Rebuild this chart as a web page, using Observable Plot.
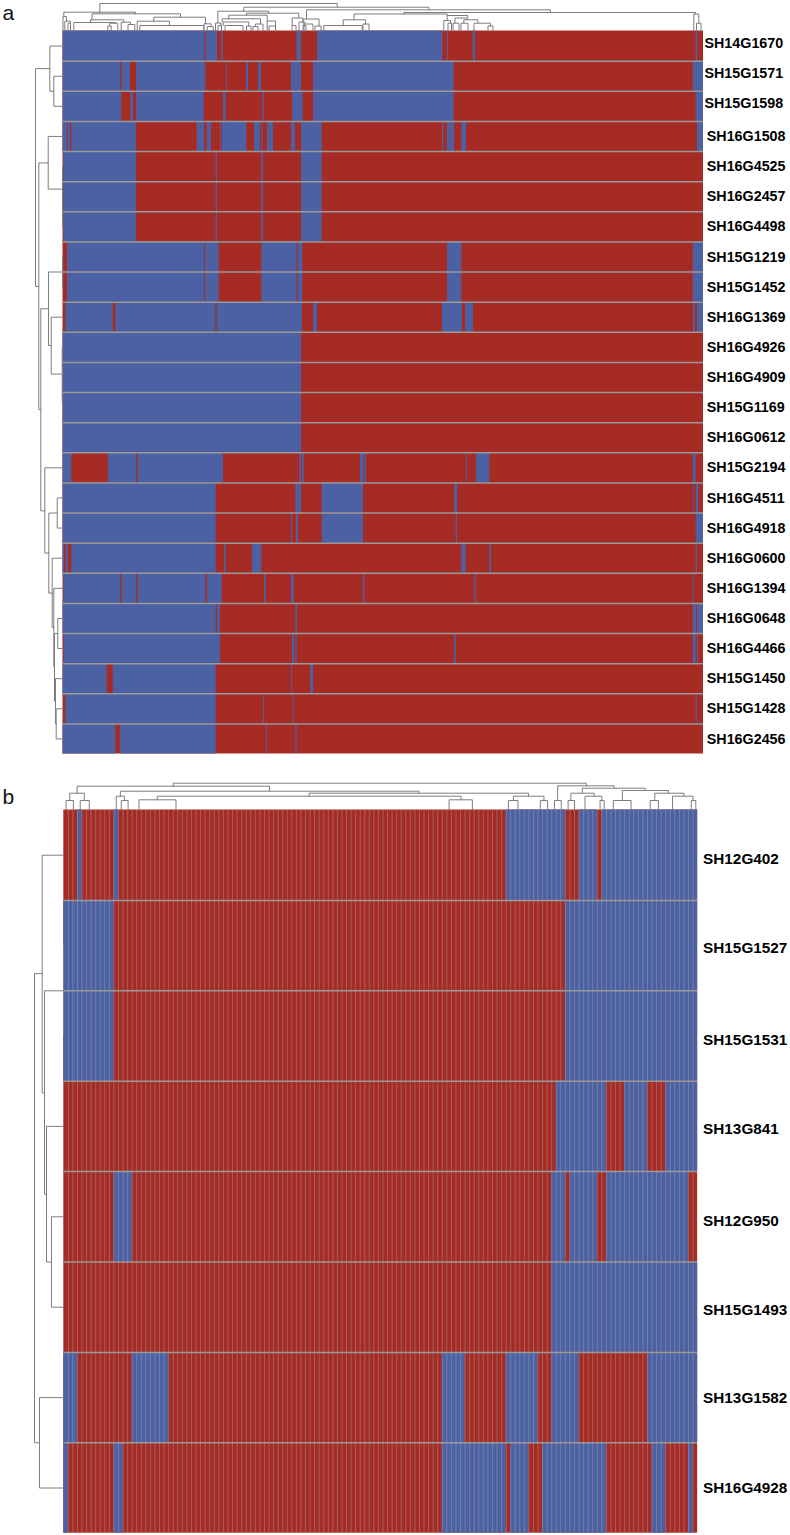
<!DOCTYPE html>
<html>
<head>
<meta charset="utf-8">
<script src="https://cdn.jsdelivr.net/npm/d3@7"></script>
<script src="https://cdn.jsdelivr.net/npm/@observablehq/plot@0.6"></script>
<style>
html,body{margin:0;padding:0;background:#fff}
svg{display:block}
</style>
</head>
<body>
<div id="chart"></div>
<script>
// Panel a: isolates along the axis (0 to 640.5), rows top to bottom
const aLabels = ["SH14G1670","SH15G1571","SH15G1598","SH16G1508","SH16G4525","SH16G2457","SH16G4498","SH15G1219","SH15G1452","SH16G1369","SH16G4926","SH16G4909","SH15G1169","SH16G0612","SH15G2194","SH16G4511","SH16G4918","SH16G0600","SH16G1394","SH16G0648","SH16G4466","SH15G1450","SH15G1428","SH16G2456"];
const aSpan = 640.5;
// Blue stretches [start, end, start, end, ...]; everything else in a row is red
const aBlue = [
 [0,141.5,142.8,154.5,158.5,160.2,234,238.5,254.5,379.8,384.5,385.5,410.2,412.5,633.2,634.8],
 [0,57.5,58.8,67.5,73.5,142.8,163.5,164.5,183.5,185.5,195.5,198.5,228.5,238.5,250.5,391.2,630.2,640.5],
 [0,58.8,67.8,70.5,73.5,141.2,160.5,163.2,200.2,201.5,229.5,240.2,250.5,391.2,633.2,640.5],
 [0,4.8,5.5,7.5,8.8,73.5,134.2,141.5,144.2,148.5,157.5,158.5,159.5,183.8,191.5,197.5,199,200,204.5,210.5,228.5,232.5,238.5,259.2,379.5,380.8,384.5,386.5,386.8,391.5,398.8,403.5,634.5,640.5],
 [0.8,73.5,153.2,154.5,198.8,200.5,238.5,259.2],
 [0.8,73.5,153.2,154.5,198.8,200.5,238.5,259.2],
 [0.8,73.5,153.2,154.5,198.8,200.5,238.5,259.2],
 [4.5,141.5,142.5,156.2,198.8,234.2,235.5,239.8,384.5,398.8,630.2,640.5],
 [4.5,141.5,142.5,156.2,198.8,234.2,235.5,239.8,384.5,398.8,630.2,640.5],
 [2.8,50.2,52.8,152.8,154.2,239.5,250.5,254.5,379.5,399.5,402.5,410.5,630.5,632.5,634.5,640.5],
 [0,238.5],
 [0,238.5],
 [0,238.5],
 [0,238.5],
 [0,8.8,45.5,73.5,74.8,160.5,236.8,238.5,239.5,241.2,297.5,300.8,301.8,303.5,403.5,404.5,413.5,426.8,630.2,633.2],
 [0,153.2,232.8,238.5,259.2,300.5,391.5,394.5,630.2,631,633.2,635.8],
 [0,153.2,228.5,229.5,233.5,235.5,259.2,300.5,393.2,394.5,633.2,640.5],
 [0,1.5,3.2,5.5,8.8,153.2,161.5,163.2,189.5,198.8,398.8,403.2,426.8,428.5,633.2,634.5],
 [0.8,57.5,58.8,73.5,74.8,142.8,144.5,159.2,201.5,203.2,228.5,231.2,300.5,301.8,412.2,413.5,630.2,631.2],
 [0,153.2,154.5,157.5,232.8,234.5,630.2,633.5,634.5,640.5],
 [1.2,157.5,229.5,231.5,232.8,234.2,391.5,393.2,630.2,633.2,634.5,635.5],
 [0,44.2,50.2,153.2,228.5,229.5,247.5,250.5],
 [2.8,153.2,200.5,201.5,230,231,633.2,634.2],
 [0,52.8,57.5,153.2,203.5,204.5,232.8,234.2]
];
// Column dendrogram of panel a: [left, right, height, left child height, right child height]
const aTop = [
 [36.8,274.2,27.5,18.8,23.8],[0.8,72.5,18.8,14.5,17.2],[29,117.5,17.2,11.2,13.8],[90.8,142.5,13.8,9.8,7.2],
 [74.2,106.5,9.8,0,5.5],[76.8,140.8,5.5,0,0],[141,148,7.2,0,4.5],[144.2,150.2,4.5,0,0],
 [0,3.5,14.5,0,9.8],[1.8,7.5,9.8,0,7.8],[5,7.5,7.8,0,0],[27.5,60.8,11.2,8.5,8.8],
 [10.8,52.5,8.5,0,7.8],[46.8,54.8,7.8,5,0],[44.8,48.2,5,0,0],[58.2,67.5,8.8,0,6.5],[65,71.8,6.5,0,0],
 [180.8,365.8,23.8,19.8,21.2],[154.8,205.8,19.8,8,17.8],[152.5,158,8,0,5.5],[155,158.5,5.5,0,0],
 [183.5,235.8,17.8,15.8,13],[165.8,204.2,15.8,12.2,10],[159.2,197.5,12.2,9,7],[160.2,185.8,9,5.5,5],
 [162,180,5.5,0,0],[183.5,188,5,0,0],[192.5,200,7,4.5,0],[190,195,4.5,0,0],
 [204.2,212.5,10,0,5],[206,212.5,5,0,0],[229.2,240,13,5.5,9],[229,233,5.5,0,0],[236,242,9,0,5.5],[240,243,5.5,0,0],
 [243.5,487.5,21.2,12,18.5],[240,256,12,7,5],[241,250,7,0,0],[252,258,5,0,0],
 [340.8,632.5,18.5,17,17],[291,384.2,17,11.2,15.5],[280.2,302.5,11.2,5.5,7],[260.8,299.2,5.5,0,0],[300,306,7,0,0],
 [384.2,404.8,15.5,10.5,13],[380.8,387.5,10.5,0,7.8],[385,388.5,7.8,0,0],[392,404,13,7.8,11.2],[390,396,7.8,0,0],
 [400.8,414.8,11.2,7.8,7.8],[398,405,7.8,0,0],[411,427.5,7.8,0,5],[425,430,5,0,0],
 [630.8,635.8,17,0,7.8],[633.5,638,7.8,0,0]
];
// Row dendrogram of panel a: [upper row, lower row, height, upper child height, lower child height]
const aLeft = [
 [1.25,8.48,27.5,13.2,24.2],[0.5,2,13.2,0,9.2],[1.5,2.5,9.2,0,0],[4.38,12.57,24.2,14.8,22.2],
 [3.5,5.25,14.8,0,0.5],[4.5,6,0.5,0,0.3],[5.5,6.5,0.3,0,0],[9.22,15.93,22.2,14.5,18.2],
 [8,10.44,14.5,0.3,11.8],[7.5,8.5,0.3,0,0],[9.5,11.39,11.8,0,0.8],[10.5,12.3,0.8,0,0.5],
 [11.5,13,0.5,0,0.3],[12.5,13.5,0.3,0,0],[14.5,17.33,18.2,0,14.2],[16,18.66,14.2,5.8,10.8],
 [15.5,16.5,5.8,0,0],[17.5,19.8,10.8,0,9.2],[18.5,21.1,9.2,0,8.5],[20,22.25,8.5,5.2,7.5],
 [19.5,20.5,5.2,0,0],[21.5,23,7.5,0,6.8],[22.5,23.5,6.8,0,0]
];

// Panel b: 139 isolates as columns, 8 rows
const bLabels = ["SH12G402","SH15G1527","SH15G1531","SH13G841","SH12G950","SH15G1493","SH13G1582","SH16G4928"];
const bColumns = 139;
const bBlue = [
 [3,4,11,12,97,110,113,117,118,139],
 [0,11,110,139],
 [0,11,110,139],
 [108,119,123,128,132,139],
 [11,15,107,110,111,117,119,137],
 [107,139],
 [0,3,15,23,83,88,97,104,107,113,128,139],
 [0,1,11,13,83,97,98,102,105,119,129,132,137,138]
];
const bTop = [
 [24,114.6,26.8,23.8,24.2],[2.9,45.1,23.8,16.8,18.8],[1.3,4.5,16.8,9.5,9.5],[0.5,2.1,9.5,0,0],[3.6,5.6,9.5,0,0],
 [12.4,77.9,18.8,13.8,16.8],[11.5,13.3,13.8,0,9.5],[12.6,14.1,9.5,0,0],[53.8,101.9,16.8,13.8,13.8],
 [20.5,87.1,13.8,10.2,10.2],[16.5,24.6,10.2,0,0],[84.5,89.6,10.2,0,0],[98.6,105.3,13.8,9.5,9.5],
 [97.5,99.6,9.5,0,0],[104.5,106.1,9.5,0,0],[108.3,120.7,24.2,9.5,21.8],[107.6,109.1,9.5,0,0],
 [113.7,127.5,21.8,16.8,19.5],[111.2,116.3,16.8,9.5,13.8],[110.6,112,9.5,0,0],[114.3,118,13.8,0,9.5],
 [117.6,118.5,9.5,0,0],[122.5,132.6,19.5,9.5,16.8],[120.5,124.4,9.5,0,0],[129.6,136,16.8,9.5,13.8],
 [128.6,130.4,9.5,0,0],[133.5,138,13.8,0,9.5],[137.6,138.6,9.5,0,0]
];
const bLeft = [
 [1.81,7,29.3,21.6,24.3],[0.5,3.13,21.6,0,19.3],[2,4.25,19.3,0.3,17.3],[1.5,2.5,0.3,0,0],
 [3.5,5,17.3,0,12.3],[4.5,5.5,12.3,0,0],[6.5,7.5,24.3,0,0]
];

// Styling and layout
const BLUE = "#4c61a4", RED = "#a52b24", LINE = "#7d7d7d", GRID = "#9a9a9a";
const FONT = "'Liberation Sans', Arial, sans-serif";
const aLabelShift = aLabels.map((_, i) => i < 3 ? {x: 641.5, y: -0.1} : {x: 643.8, y: 0});
const bLabelShift = [0.04, 0.03, 0.04, 0.03, 0.05, 0.03, 0.01, 0];

function runs(blue) {
  const out = [];
  blue.forEach((b, row) => {
    for (let i = 0; i < b.length; i += 2) out.push({row, x1: b[i], x2: b[i + 1]});
  });
  return out;
}
const topPath = (m, k) => m.flatMap((d, id) => [
  {id, a: d[0], h: d[3]}, {id, a: d[0], h: d[2]}, {id, a: d[1], h: d[2]}, {id, a: d[1], h: d[4]}
]).map(p => ({id: p.id, x: p.a, y: -p.h / k}));
const leftPath = (m, k) => m.flatMap((d, id) => [
  {id, y: d[0], h: d[3]}, {id, y: d[0], h: d[2]}, {id, y: d[1], h: d[2]}, {id, y: d[1], h: d[4]}
]).map(p => ({id: p.id, x: -p.h / k, y: p.y}));

const dendro = pts => Plot.line(pts, {x: "x", y: "y", z: "id", stroke: LINE, strokeWidth: 1, strokeLinejoin: "miter"});
const frame = (xUnit, yUnit, left, top, W, H) => ({
  width: W, height: H, margin: 0,
  style: {background: "transparent", fontFamily: FONT},
  x: {axis: null, domain: [-left / xUnit, (W - left) / xUnit], range: [0, W]},
  y: {axis: null, domain: [-top / yUnit, (H - top) / yUnit], range: [0, H]}
});

// Panel a
const aRowPx = 30.125;
const a = Plot.plot({
  ...frame(1, aRowPx, 62.5, 30.5, 790, 780),
  marks: [
    Plot.rect([0], {x1: 0, x2: aSpan, y1: 0, y2: aLabels.length, fill: RED}),
    Plot.rect(runs(aBlue), {x1: "x1", x2: "x2", y1: d => d.row, y2: d => d.row + 1, fill: BLUE}),
    Plot.ruleY(d3.range(1, aLabels.length), {x1: 0, x2: aSpan, stroke: GRID, strokeWidth: 1.5}),
    dendro(topPath(aTop, aRowPx)),
    dendro(leftPath(aLeft, 1)),
    Plot.text(aLabels, {
      x: (_, i) => aLabelShift[i].x, y: (_, i) => i + 0.5 + aLabelShift[i].y, text: d => d,
      textAnchor: "start", fontSize: 14.3, fontWeight: "bold", fill: "#000"
    }),
    Plot.text(["a"], {frameAnchor: "top-left", dx: 2, dy: 5, fontSize: 21, fill: "#111", lineAnchor: "top", textAnchor: "start"})
  ]
});

// Panel b
const bColPx = 4.56, bRowPx = 90.4;
const b = Plot.plot({
  ...frame(bColPx, bRowPx, 63.3, 29.5, 790, 755),
  marks: [
    Plot.rect([0], {x1: 0, x2: bColumns, y1: 0, y2: bLabels.length, fill: RED}),
    Plot.rect(runs(bBlue), {x1: "x1", x2: "x2", y1: d => d.row, y2: d => d.row + 1, fill: BLUE}),
    Plot.ruleX(d3.range(1, bColumns), {y1: 0, y2: bLabels.length, stroke: "#a9a9a9", strokeOpacity: 0.42, strokeWidth: 1}),
    Plot.ruleY(d3.range(1, bLabels.length), {x1: 0, x2: bColumns, stroke: GRID, strokeWidth: 1.5}),
    dendro(topPath(bTop, bRowPx)),
    dendro(leftPath(bLeft, bColPx)),
    Plot.text(bLabels, {
      x: 140.2, y: (_, i) => i + 0.5 + bLabelShift[i], text: d => d,
      textAnchor: "start", fontSize: 15.3, fontWeight: "bold", fill: "#000"
    }),
    Plot.text(["b"], {frameAnchor: "top-left", dx: 2, dy: 9, fontSize: 21, fill: "#111", lineAnchor: "top", textAnchor: "start"})
  ]
});

document.getElementById("chart").append(a, b);
</script>
</body>
</html>
